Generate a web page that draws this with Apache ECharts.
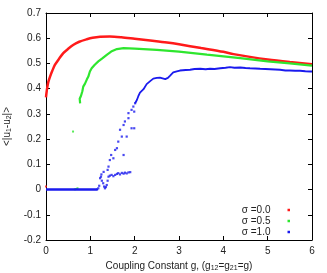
<!DOCTYPE html>
<html>
<head>
<meta charset="utf-8">
<script src="https://cdn.jsdelivr.net/npm/echarts@6/dist/echarts.min.js"></script>
<style>html,body{margin:0;padding:0;background:#fff;}#c{width:327px;height:273px;}</style>
</head>
<body>
<div id="c"></div>
<script>
var xTicks = [0, 1, 2, 3, 4, 5, 6];
var yTicks = [-0.2, -0.1, 0, 0.1, 0.2, 0.3, 0.4, 0.5, 0.6, 0.7];
var seriesNames = ['σ =0.0', 'σ =0.5', 'σ =1.0'];

var redCurve = [[0,0.365],[0.02,0.395],[0.05,0.425],[0.1,0.452],[0.14,0.47],[0.2,0.494],[0.3,0.52],[0.39,0.541],[0.5,0.558],[0.62,0.574],[0.75,0.586],[0.92,0.596],[1.05,0.602],[1.22,0.606],[1.44,0.607],[1.7,0.604],[2.0,0.598],[2.4,0.59],[2.73,0.583],[3.0,0.576],[3.5,0.561],[4.0,0.546],[4.23,0.537],[4.6,0.526],[5.0,0.516],[5.5,0.506],[6.0,0.497]];
var redDots = [[0,0.012]];

var greenCurve = [[0.77,0.342],[0.76,0.36],[0.79,0.372],[0.82,0.39],[0.84,0.408],[0.88,0.42],[0.92,0.436],[0.955,0.448],[0.99,0.468],[1.03,0.481],[1.1,0.495],[1.18,0.508],[1.27,0.52],[1.37,0.534],[1.47,0.547],[1.6,0.557],[1.75,0.561],[2.0,0.559],[2.5,0.554],[3.0,0.547],[3.63,0.535],[4.38,0.521],[5.0,0.508],[5.5,0.5],[6.0,0.491]];
var greenDots = [[0.61,0.23],[0.65,0.001],[0.68,0.002],[0.71,0.005]];

var blueZero = [[0,0],[1.14,0],[1.17,0.003]];
var blueDots = [[1.18,0.005],[1.2,0.015],[1.22,0.045],[1.24,0.051],[1.26,0.035],[1.29,0.025],[1.31,0.012],[1.33,0.005],[1.35,0.01],[1.37,0.018],[1.39,0.035],[1.41,0.051],[1.44,0.055],[1.48,0.058],[1.52,0.053],[1.56,0.058],[1.6,0.062],[1.63,0.065],[1.67,0.06],[1.71,0.066],[1.75,0.063],[1.78,0.067],[1.82,0.064],[1.86,0.068],[1.9,0.069],
  [1.25,0.06],[1.3,0.07],[1.39,0.078],[1.41,0.091],[1.44,0.117],[1.47,0.137],[1.52,0.124],[1.56,0.157],[1.6,0.164],[1.63,0.19],[1.67,0.237],[1.71,0.21],[1.75,0.137],[1.75,0.256],[1.78,0.27],[1.82,0.21],[1.86,0.283],[1.86,0.303],[1.93,0.243],[1.99,0.243],[1.93,0.316],[1.99,0.309],[1.97,0.329],[2.01,0.342]];
var blueCurve = [[2.01,0.342],[2.05,0.355],[2.08,0.369],[2.12,0.384],[2.2,0.398],[2.27,0.418],[2.35,0.43],[2.42,0.44],[2.5,0.443],[2.57,0.444],[2.63,0.441],[2.69,0.438],[2.75,0.443],[2.8,0.452],[2.87,0.465],[2.95,0.469],[3.02,0.472],[3.15,0.474],[3.25,0.475],[3.35,0.478],[3.48,0.479],[3.6,0.477],[3.7,0.479],[3.8,0.478],[3.93,0.481],[4.05,0.483],[4.15,0.485],[4.25,0.483],[4.38,0.484],[4.5,0.482],[4.6,0.481],[4.72,0.48],[4.83,0.479],[4.95,0.478],[5.06,0.477],[5.17,0.476],[5.28,0.475],[5.4,0.472],[5.5,0.472],[5.62,0.471],[5.73,0.471],[5.85,0.469],[5.96,0.468],[6.0,0.468]];

var colors = ['#ff1a1a', '#2ee62e', '#1a1aee'];
var font = 'Liberation Sans';
var txt = '#222';

var chart = echarts.init(document.getElementById('c'), null, {renderer: 'canvas'});

function fmt(v) { return String(+(+v).toFixed(1)); }

var axisCommon = {
  type: 'value',
  splitLine: {show: false},
  axisLine: {show: true, onZero: false, lineStyle: {color: '#000', width: 1}},
  axisTick: {show: true, inside: true, length: 4, lineStyle: {color: '#000'}}
};

var option = {
  animation: false,
  backgroundColor: '#fff',
  grid: {left: 46, right: 15, top: 13, bottom: 33, containLabel: false, outerBoundsMode: 'none'},
  legend: {
    orient: 'vertical',
    right: 37,
    top: 204.5,
    padding: 0,
    align: 'right',
    itemGap: 0,
    itemWidth: 2.5,
    itemHeight: 2.5,
    icon: 'rect',
    selectedMode: false,
    textStyle: {fontFamily: font, fontSize: 10, color: txt, lineHeight: 11, padding: [0, 12, 0, 0]},
    data: seriesNames
  },
  xAxis: [
    Object.assign({}, axisCommon, {
      min: xTicks[0], max: xTicks[xTicks.length - 1], interval: 1, position: 'bottom',
      axisLabel: {margin: 6, fontFamily: font, fontSize: 10, color: txt, formatter: fmt},
      name: '{n|Coupling Constant g, (g}{s|12}{n|=g}{s|21}{n|=g)}',
      nameLocation: 'middle', nameGap: 19,
      nameTextStyle: {fontFamily: font, fontSize: 10, color: txt,
        rich: {n: {fontFamily: font, fontSize: 10, color: txt, lineHeight: 12},
               s: {fontFamily: font, fontSize: 7, color: txt, lineHeight: 6, verticalAlign: 'bottom'}}}
    }),
    Object.assign({}, axisCommon, {
      min: xTicks[0], max: xTicks[xTicks.length - 1], interval: 1, position: 'top',
      axisLabel: {show: false}
    })
  ],
  yAxis: [
    Object.assign({}, axisCommon, {
      min: yTicks[0], max: yTicks[yTicks.length - 1], interval: 0.1, position: 'left',
      axisLabel: {margin: 5, fontFamily: font, fontSize: 10, color: txt, formatter: fmt},
      name: '{n|<|u}{s|1}{n|-u}{s|2}{n||>}',
      nameLocation: 'middle', nameGap: 33,
      nameTextStyle: {fontFamily: font, fontSize: 10, color: txt,
        rich: {n: {fontFamily: font, fontSize: 10, color: txt, lineHeight: 12},
               s: {fontFamily: font, fontSize: 7, color: txt, lineHeight: 6, verticalAlign: 'bottom'}}}
    }),
    Object.assign({}, axisCommon, {
      min: yTicks[0], max: yTicks[yTicks.length - 1], interval: 0.1, position: 'right',
      axisLabel: {show: false}
    })
  ],
  series: [
    {name: seriesNames[0], type: 'line', data: redCurve, showSymbol: false, smooth: 0.3,
      lineStyle: {color: colors[0], width: 2.5}, itemStyle: {color: colors[0]}, z: 2},
    {name: seriesNames[0], type: 'scatter', data: redDots, symbol: 'rect', symbolSize: 2,
      itemStyle: {color: colors[0]}, z: 2},
    {name: seriesNames[1], type: 'line', data: greenCurve, showSymbol: false,
      lineStyle: {color: colors[1], width: 2.2}, itemStyle: {color: colors[1]}, z: 3},
    {name: seriesNames[1], type: 'scatter', data: greenDots, symbol: 'rect', symbolSize: 2,
      itemStyle: {color: colors[1]}, z: 3},
    {name: seriesNames[2], type: 'line', data: blueZero, showSymbol: false,
      lineStyle: {color: colors[2], width: 2.5}, itemStyle: {color: colors[2]}, z: 4},
    {name: seriesNames[2], type: 'scatter', data: blueDots, symbol: 'rect', symbolSize: 2.2,
      itemStyle: {color: colors[2]}, z: 4},
    {name: seriesNames[2], type: 'line', data: blueCurve, showSymbol: false,
      lineStyle: {color: colors[2], width: 1.8}, itemStyle: {color: colors[2]}, z: 4}
  ]
};
chart.setOption(option);
</script>
</body>
</html>
